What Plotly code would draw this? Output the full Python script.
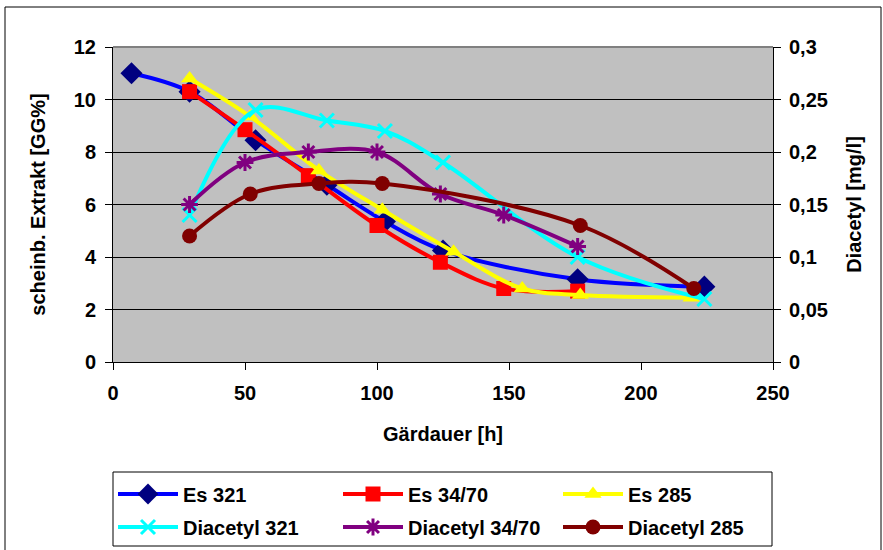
import plotly.graph_objects as go

# Gärdauer (hours) and apparent extract [GG%] per yeast strain
hours_es321 = [7, 29, 54, 81, 103, 125, 176, 224]
extract_es321 = [11.0, 10.3, 8.45, 6.75, 5.35, 4.25, 3.15, 2.87]

hours_es3470 = [29, 50, 74, 100, 124, 148, 176]
extract_es3470 = [10.3, 8.85, 7.1, 5.2, 3.8, 2.8, 2.7]

hours_es285 = [29, 52, 78, 102, 129, 155, 177, 219]
extract_es285 = [10.8, 9.35, 7.3, 5.8, 4.2, 2.8, 2.55, 2.45]

# Diacetyl [mg/l]
hours_d321 = [29, 54, 81, 103, 125, 176, 224]
diacetyl_321 = [0.14, 0.24, 0.23, 0.22, 0.19, 0.10, 0.06]

hours_d3470 = [29, 50, 74, 100, 124, 148, 176]
diacetyl_3470 = [0.15, 0.19, 0.20, 0.20, 0.16, 0.14, 0.11]

hours_d285 = [29, 52, 78, 102, 177, 220]
diacetyl_285 = [0.12, 0.16, 0.17, 0.17, 0.13, 0.07]

FONT = "Liberation Sans"
FS = 20

L, R, T, B = 113, 110, 47, 188
W, H = 883, 550
pw, ph = W - L - R, H - T - B

def px_x(p):
    return (p - L) / pw

def px_y(p):
    return (H - B - p) / ph

bold = dict(family=FONT, size=FS, color="black", weight="bold")

# legend grid: three columns, two rows (pixel positions of each entry)
legend_cols = [113, 338, 558]
legend_rows = [494, 527]

fig = go.Figure()
legends = {}

def add_series(x, y, name, line_color, symbol, marker_color, size, slot,
               yaxis="y", line_marker=False):
    marker = dict(symbol=symbol, size=size, color=marker_color)
    if line_marker:
        marker["line"] = dict(color=marker_color, width=3)
    else:
        marker["line"] = dict(width=0)
    key = "legend" if slot == 0 else f"legend{slot + 1}"
    row, col = divmod(slot, 3)
    legends[key] = dict(
        orientation="h",
        x=px_x(legend_cols[col]), xanchor="left",
        y=px_y(legend_rows[row]), yanchor="middle",
        borderwidth=0, bgcolor="rgba(0,0,0,0)",
        itemwidth=60, font=bold,
    )
    fig.add_trace(go.Scatter(
        x=x, y=y, name=name, mode="lines+markers", yaxis=yaxis, legend=key,
        line=dict(color=line_color, width=4, shape="spline", smoothing=1.0),
        marker=marker,
    ))

add_series(hours_es321, extract_es321, "Es 321", "#0000FF", "diamond", "#000080", 17, 0)
add_series(hours_es3470, extract_es3470, "Es 34/70", "#FF0000", "square", "#FF0000", 15, 1)
add_series(hours_es285, extract_es285, "Es 285", "#FFFF00", "triangle-up", "#FFFF00", 15, 2)
add_series(hours_d321, diacetyl_321, "Diacetyl 321", "#00FFFF", "x-thin", "#00FFFF", 14, 3,
           yaxis="y2", line_marker=True)
add_series(hours_d3470, diacetyl_3470, "Diacetyl 34/70", "#800080", "asterisk", "#800080", 14, 4,
           yaxis="y2", line_marker=True)
add_series(hours_d285, diacetyl_285, "Diacetyl 285", "#800000", "circle", "#800000", 15, 5,
           yaxis="y2")

fig.update_layout(
    width=W, height=H,
    margin=dict(l=L, r=R, t=T, b=B, pad=0, autoexpand=False),
    paper_bgcolor="white",
    plot_bgcolor="#C0C0C0",
    separators=",.",
    font=bold,
    xaxis=dict(
        range=[0, 250], dtick=50, tick0=0,
        showgrid=False, zeroline=False,
        showline=True, linecolor="black", linewidth=1,
        ticks="outside", ticklen=7, tickcolor="black",
        ticklabelstandoff=6,
        tickfont=bold,
        title=dict(text="Gärdauer [h]", standoff=23, font=bold),
    ),
    yaxis=dict(
        range=[0, 12], dtick=2, tick0=0,
        showgrid=True, gridcolor="black", gridwidth=1,
        zeroline=False,
        showline=True, linecolor="black", linewidth=1,
        ticks="outside", ticklen=7, tickcolor="black",
        ticklabelstandoff=5,
        tickfont=bold,
        title=dict(text="scheinb. Extrakt [GG%]", standoff=22, font=bold),
    ),
    yaxis2=dict(
        range=[0, 0.3], dtick=0.05, tick0=0,
        overlaying="y", side="right",
        showgrid=False, zeroline=False,
        showline=True, linecolor="black", linewidth=1,
        ticks="outside", ticklen=7, tickcolor="black",
        ticklabelstandoff=4,
        tickfont=bold,
        title=dict(text="Diacetyl [mg/l]", standoff=20, font=bold),
    ),
    showlegend=True,
    **legends,
)

# outer chart frame, legend box and grey plot-area border
fig.add_shape(type="rect", xref="paper", yref="paper",
              x0=px_x(5), x1=px_x(881), y0=px_y(560), y1=px_y(7),
              line=dict(color="black", width=1), layer="below")
fig.add_shape(type="rect", xref="paper", yref="paper",
              x0=px_x(113), x1=px_x(772), y0=px_y(546), y1=px_y(472),
              line=dict(color="black", width=1), fillcolor="white", layer="below")
fig.add_shape(type="line", xref="paper", yref="paper",
              x0=0, x1=1, y0=1, y1=1,
              line=dict(color="#808080", width=2), layer="above")

fig.write_html("out.html")
